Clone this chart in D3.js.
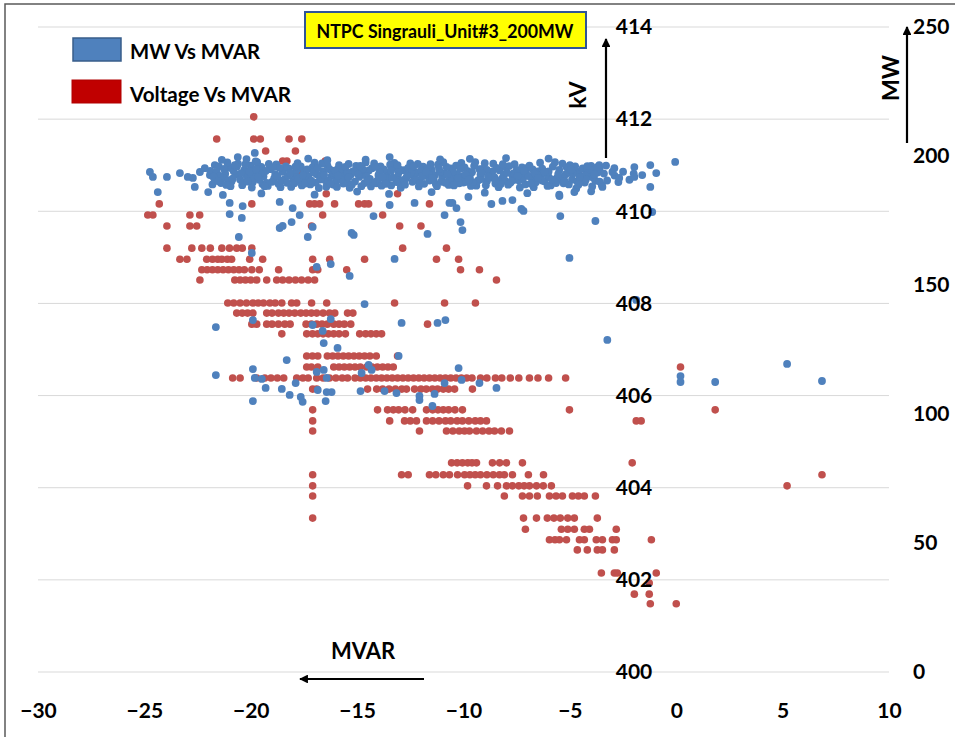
<!DOCTYPE html>
<html>
<head>
<meta charset="utf-8">
<script src="https://cdn.jsdelivr.net/npm/d3@7"></script>
<style>
  body { margin: 0; background: #fff; }
  svg { display: block; font-family: Lato, "Open Sans", sans-serif; font-weight: bold; }
</style>
</head>
<body>
<svg id="chart" width="955" height="737"></svg>
<script>
var xTicks = [-30, -25, -20, -15, -10, -5, 0, 5, 10];
var kvTicks = [400, 402, 404, 406, 408, 410, 412, 414];
var mwTicks = [0, 50, 100, 150, 200, 250];

// Voltage Vs MVAR: each row is [kV, list of MVAR readings]
var voltageRows = [
  [412.05, [-19.86]],
  [411.57, [-21.6, -19.86, -19.55, -18.2, -17.6]],
  [411.31, [-19.3, -17.9]],
  [411.09, [-18.5, -18.3, -16.5]],
  [410.87, [-17.65]],
  [410.38, [-16.45, -13.1]],
  [410.16, [-24.3, -19.95, -17.23, -17.0, -16.76, -16.06, -14.93, -14.65, -14.46, -11.6]],
  [409.92, [-24.84, -24.6, -22.86, -22.4, -16.62, -13.8]],
  [409.68, [-23.94, -22.86, -22.54, -17.14, -13.0, -12.0]],
  [409.20, [-23.94, -22.77, -22.3, -21.9, -21.36, -21.0, -20.66, -20.4, -19.95, -12.86, -10.8]],
  [408.96, [-23.33, -23.0, -22.07, -21.8, -21.55, -21.36, -21.1, -20.9, -20.05, -19.44, -17.09, -16.29, -14.65, -11.27, -10.23]],
  [408.73, [-22.3, -22.05, -21.8, -21.55, -21.3, -21.05, -20.8, -20.55, -20.3, -19.95, -19.6, -18.69, -17.09, -16.85, -15.49, -10.14, -9.25]],
  [408.51, [-22.39, -20.75, -20.5, -20.25, -20.0, -19.72, -19.25, -18.78, -18.5, -18.2, -17.9, -17.61, -17.3, -17.0, -8.45]],
  [408.01, [-21.08, -20.8, -20.5, -20.2, -19.9, -19.65, -19.4, -19.1, -18.85, -18.54, -18.08, -17.84, -17.14, -16.43, -13.24, -10.89, -9.44]],
  [407.79, [-20.66, -20.4, -20.15, -19.9, -19.25, -19.0, -18.7, -18.45, -18.2, -17.93, -17.65, -17.4, -17.15, -16.9, -16.6, -16.3, -16.05, -15.45, -15.2]],
  [407.55, [-19.95, -19.72, -19.25, -19.0, -18.7, -18.4, -18.15, -17.4, -17.15, -16.9, -16.65, -16.4, -16.1, -15.85, -15.6, -15.3, -11.69]],
  [407.34, [-18.54, -17.37, -17.1, -16.85, -16.6, -16.35, -16.1, -15.85, -15.55, -14.88, -14.6, -14.35, -14.1, -13.85]],
  [406.86, [-17.37, -17.1, -16.85, -16.4, -16.15, -15.9, -15.65, -15.4, -15.15, -14.9, -14.65, -14.4, -14.1, -13.1]],
  [406.62, [-17.37, -17.15, -16.85, -16.1, -15.85, -15.6, -15.35, -15.1, -14.85, -14.55, -14.3, -14.05, -13.8, -13.55, -13.3, 0.2]],
  [406.38, [-20.85, -20.5, -19.72, -19.34, -19.05, -18.75, -18.45, -17.84, -17.55, -17.3, -16.9, -16.6, -16.3, -16.0, -15.7, -15.45, -15.1, -14.85, -14.6, -14.35, -14.1, -13.85, -13.6, -13.35, -13.1, -12.85, -12.6, -12.35, -12.1, -11.85, -11.6, -11.35, -11.1, -10.85, -10.6, -10.35, -10.1, -9.85, -9.6, -9.2, -8.9, -8.5, -8.2, -7.8, -7.4, -6.9, -6.5, -6.0, -5.2]],
  [406.14, [-17.09, -16.9, -14.51, -14.08, -13.8, -13.5, -13.2, -12.9, -12.68, -12.3, -12.0, -11.75, -11.46, -11.22, -10.95, -10.7, -10.42, -9.58]],
  [405.69, [-17.09, -14.04, -13.57, -13.3, -13.05, -12.75, -12.39, -11.74, -11.45, -11.2, -10.95, -10.7, -10.4, -10.05, -5.02, 1.83]],
  [405.45, [-17.09, -13.47, -12.77, -12.5, -12.21, -11.74, -11.45, -11.15, -10.85, -10.6, -10.3, -10.05, -9.75, -9.45, -9.2, -8.92, -1.88, -1.65]],
  [405.23, [-17.09, -12.07, -10.8, -10.5, -10.2, -9.95, -9.72, -9.39, -9.1, -8.8, -8.54, -8.22, -7.84]],
  [404.54, [-10.56, -10.3, -10.05, -9.8, -9.6, -9.39, -8.64, -8.3, -7.98, -7.23, -2.07]],
  [404.28, [-17.09, -12.91, -12.6, -11.6, -11.3, -10.95, -10.66, -10.28, -9.95, -9.7, -9.45, -9.2, -8.9, -8.6, -8.31, -8.08, -7.7, -6.95, -6.24, 6.85]],
  [404.04, [-17.09, -9.81, -8.92, -8.4, -7.98, -7.7, -7.4, -7.15, -6.9, -6.57, -6.25, -5.87, 5.21]],
  [403.82, [-17.09, -8.08, -7.23, -6.9, -6.53, -5.96, -5.65, -5.35, -4.88, -4.6, -4.32, -3.8]],
  [403.34, [-17.09, -7.18, -6.57, -6.06, -5.75, -5.45, -5.1, -4.79, -3.71]],
  [403.10, [-7.09, -5.4, -5.1, -4.79, -4.32, -4.08, -2.82]],
  [402.87, [-5.96, -5.7, -5.49, -5.16, -4.55, -4.32, -3.76, -3.47, -3.0, -2.82, -1.17]],
  [402.65, [-4.65, -4.18, -3.71, -3.47, -2.91]],
  [402.15, [-3.52, -2.91, -2.77, -0.94]],
  [401.93, [-1.27]],
  [401.69, [-1.97, -1.27]],
  [401.48, [-1.22, 0]]
];

// MW Vs MVAR: [MVAR, MW]
var mwPoints = [
  [-24.74, 193.8], [-24.6, 191.9], [-23.94, 191.9], [-23.33, 193.4], [-22.96, 191.9], [-22.72, 191.5],
  [-22.63, 188.0], [-24.37, 186.0], [-22.39, 193.8], [-22.16, 195.3], [-21.92, 192.6], [-21.69, 196.5],
  [-21.9, 194.2], [-21.7, 191.0], [-21.5, 196.0], [-21.4, 189.5], [-21.2, 193.1], [-21.0, 195.4], [-20.9, 190.2],
  [-20.7, 192.8], [-20.6, 197.0], [-20.4, 188.7], [-20.3, 194.6], [-20.1, 191.7], [-20.0, 196.3], [-19.9, 189.9],
  [-19.8, 193.5], [-19.6, 190.8], [-19.5, 195.8], [-19.4, 192.1], [-19.2, 188.4], [-19.1, 194.9], [-18.9, 191.3],
  [-18.8, 196.7], [-18.7, 189.2], [-18.5, 193.9], [-18.4, 191.0], [-18.2, 195.1], [-18.1, 188.0], [-17.9, 192.5],
  [-17.8, 197.2], [-17.7, 190.4], [-17.5, 194.3], [-17.4, 191.8], [-17.2, 189.0], [-17.1, 195.6], [-16.9, 192.9],
  [-16.8, 187.6], [-16.6, 194.0], [-16.5, 190.6], [-16.4, 196.4], [-16.2, 192.2], [-16.1, 188.9], [-15.9, 195.0],
  [-15.8, 191.5], [-15.7, 193.8], [-15.5, 189.6], [-15.4, 196.9], [-15.3, 192.7], [-15.1, 190.1], [-15.0, 194.8],
  [-14.8, 188.3], [-14.7, 193.2], [-14.6, 197.5], [-14.4, 191.1], [-14.3, 195.3], [-14.1, 189.4], [-14.0, 192.6],
  [-13.9, 196.0], [-13.7, 190.7], [-13.6, 193.7], [-13.4, 188.6], [-13.3, 195.5], [-13.1, 192.0], [-13.0, 189.8],
  [-12.8, 194.5], [-12.7, 191.4], [-12.5, 197.1], [-12.4, 190.0], [-12.2, 193.6], [-12.1, 188.2], [-11.9, 195.9],
  [-11.8, 192.3], [-11.6, 190.5], [-11.5, 194.7], [-11.3, 189.1], [-11.2, 196.6], [-11.0, 191.9], [-10.9, 193.4],
  [-10.7, 188.8], [-10.6, 195.2], [-10.4, 190.9], [-10.3, 193.0], [-10.1, 197.3], [-10.0, 189.7], [-9.8, 194.1],
  [-9.7, 191.6], [-9.5, 196.2], [-9.4, 188.5], [-9.2, 192.8], [-9.1, 195.0], [-8.9, 190.3], [-8.8, 193.5],
  [-8.6, 197.0], [-8.5, 189.3], [-8.3, 194.4], [-8.2, 191.2], [-8.0, 195.7], [-7.9, 188.9], [-7.7, 192.4],
  [-7.6, 196.8], [-7.4, 190.6], [-7.3, 193.9], [-7.1, 189.0], [-7.0, 195.4], [-6.8, 191.8], [-6.7, 187.9],
  [-6.5, 194.0], [-6.4, 197.4], [-6.2, 190.2], [-6.1, 193.3], [-5.9, 188.6], [-5.8, 195.9], [-5.6, 191.5],
  [-5.5, 194.6], [-5.3, 189.4], [-5.2, 192.9], [-5.0, 196.5], [-4.9, 190.8], [-4.7, 187.4], [-4.6, 193.8],
  [-4.4, 195.2], [-4.3, 189.7], [-4.1, 192.1], [-4.0, 196.2], [-3.8, 190.4], [-3.7, 193.6], [-3.5, 188.8],
  [-21.8, 189.0], [-21.6, 193.7], [-21.3, 191.5], [-21.1, 197.5], [-20.8, 194.1], [-20.5, 190.9], [-20.2, 192.4],
  [-19.95, 187.8], [-21.45, 192.3], [-20.95, 188.3], [-20.65, 195.9], [-20.25, 196.8], [-21.05, 190.6], [-20.45, 193.4],
  [-19.7, 197.6], [-19.45, 189.1], [-19.3, 194.2], [-19.0, 190.0], [-18.85, 193.0], [-18.6, 187.9], [-18.35, 196.0],
  [-18.0, 190.7], [-19.85, 191.6], [-19.15, 196.9], [-18.65, 195.4], [-18.25, 192.3], [-17.95, 189.4], [-19.55, 193.2],
  [-17.85, 194.6], [-17.6, 188.6], [-17.3, 192.0], [-17.0, 197.4], [-16.75, 190.9], [-16.45, 188.1], [-16.3, 194.9],
  [-16.0, 190.2], [-17.65, 196.0], [-17.35, 194.8], [-16.95, 189.7], [-16.65, 197.1], [-16.15, 193.5], [-15.95, 188.0],
  [-15.85, 196.5], [-15.6, 192.1], [-15.35, 187.7], [-15.2, 194.0], [-14.9, 191.9], [-14.65, 189.5], [-14.45, 194.4],
  [-14.2, 197.1], [-15.65, 189.3], [-15.05, 196.2], [-14.75, 195.0], [-14.35, 188.2], [-14.05, 190.4], [-15.45, 193.6],
  [-13.85, 188.5], [-13.55, 191.3], [-13.25, 197.3], [-13.05, 193.5], [-12.85, 190.6], [-12.6, 195.4], [-12.3, 191.2],
  [-12.0, 194.3], [-13.75, 194.8], [-13.45, 196.6], [-12.95, 187.7], [-12.55, 192.7], [-12.15, 196.9], [-13.15, 189.9],
  [-11.85, 189.2], [-11.55, 196.8], [-11.35, 192.6], [-11.05, 190.0], [-10.8, 195.8], [-10.55, 192.2], [-10.2, 189.4],
  [-9.95, 195.6], [-11.65, 193.2], [-11.25, 188.3], [-10.95, 197.6], [-10.65, 191.0], [-10.35, 196.3], [-10.05, 192.0],
  [-9.85, 190.0], [-9.6, 193.7], [-9.3, 190.6], [-9.0, 197.2], [-8.75, 191.6], [-8.45, 195.4], [-8.1, 192.9],
  [-7.85, 196.1], [-9.65, 188.4], [-9.25, 194.9], [-8.95, 188.7], [-8.65, 193.9], [-8.35, 187.9], [-8.05, 190.4],
  [-7.8, 189.6], [-7.5, 194.5], [-7.2, 191.4], [-6.9, 196.3], [-6.6, 189.8], [-6.3, 195.1], [-6.0, 191.9],
  [-5.7, 197.6], [-7.65, 193.3], [-7.35, 187.8], [-7.05, 193.0], [-6.75, 194.8], [-6.35, 192.5], [-6.05, 188.4],
  [-5.45, 190.9], [-5.15, 195.6], [-4.85, 193.2], [-4.5, 190.6], [-4.2, 194.6], [-3.9, 191.6], [-3.6, 195.1],
  [-5.35, 197.0], [-5.05, 189.0], [-4.75, 196.0], [-4.45, 191.5], [-3.95, 188.2], [-3.4, 193.2], [-3.25, 190.5],
  [-21.75, 192.0], [-21.25, 195.0], [-20.85, 191.2], [-20.35, 189.8], [-20.05, 193.9], [-19.65, 191.9], [-19.25, 189.6],
  [-18.95, 195.7], [-18.55, 190.4], [-18.15, 193.4], [-17.75, 191.2], [-17.45, 189.3], [-17.05, 193.6], [-16.7, 191.7],
  [-16.35, 190.3], [-16.05, 194.3], [-15.75, 190.8], [-15.4, 191.8], [-15.1, 193.9], [-14.85, 196.2], [-14.55, 192.0],
  [-14.25, 189.8], [-13.95, 193.6], [-13.65, 189.2], [-13.35, 191.6], [-13.0, 194.7], [-12.75, 188.9], [-12.45, 193.8],
  [-12.2, 190.7], [-11.95, 192.1], [-11.7, 195.2], [-11.4, 190.8], [-11.1, 193.8], [-10.85, 189.6], [-10.5, 194.0],
  [-10.25, 191.5], [-9.9, 192.9], [-9.55, 189.9], [-9.2, 191.0], [-8.9, 194.6], [-8.55, 191.8], [-8.25, 189.1],
  [-7.95, 193.5], [-7.6, 190.8], [-7.25, 195.6], [-6.95, 192.2], [-6.65, 193.2], [-6.3, 190.5], [-6.0, 194.0],
  [-5.65, 189.5], [-5.3, 191.6], [-5.0, 193.5], [-4.65, 190.2], [-4.3, 192.5], [-3.95, 194.4], [-3.6, 190.1],
  [-3.3, 196.3], [-2.9, 192.4], [-2.5, 193.9], [-2.2, 190.8], [-2.0, 193.2], [-1.6, 192.6],
  [-21.55, 190.3], [-21.15, 188.8], [-20.75, 196.5], [-20.15, 190.1], [-19.75, 195.0], [-19.35, 188.3], [-18.75, 192.2],
  [-18.3, 189.6], [-17.9, 195.9], [-17.55, 192.6], [-17.15, 190.4], [-16.85, 195.4], [-16.55, 192.6], [-16.25, 189.2],
  [-15.9, 192.4], [-15.55, 195.8], [-15.25, 188.9], [-14.95, 192.9], [-14.5, 190.6], [-14.15, 195.8], [-13.8, 191.9],
  [-13.4, 194.3], [-13.1, 196.5], [-12.65, 192.4], [-12.35, 196.0], [-12.05, 189.6], [-11.75, 193.9], [-11.45, 191.4],
  [-11.15, 195.1], [-10.75, 193.0], [-10.45, 188.6], [-10.15, 195.0], [-9.75, 190.8], [-9.45, 197.6], [-9.15, 193.4],
  [-8.85, 192.0], [-8.5, 190.5], [-8.15, 196.8], [-7.75, 190.2], [-7.45, 192.3], [-7.15, 194.3], [-6.85, 189.3],
  [-6.5, 191.5], [-6.2, 193.9], [-5.85, 190.9], [-5.55, 193.0], [-5.25, 190.3], [-4.95, 194.7], [-4.6, 188.9],
  [-4.25, 190.9], [-3.85, 192.8],
  // edges of the band
  [-20.61, 199.6], [-19.81, 201.2], [-19.77, 197.9], [-20.2, 198.8], [-21.36, 198.5], [-13.47, 199.6], [-14.6, 198.6],
  [-11.1, 198.7], [-8.0, 199.2], [-16.4, 198.4], [-6.0, 199.0], [-9.7, 198.9], [-17.3, 199.0],
  [-22.0, 186.0], [-19.5, 185.5], [-17.0, 185.0], [-15.0, 186.2], [-13.5, 185.3], [-11.5, 186.0], [-9.0, 185.8],
  [-7.0, 185.6], [-5.5, 185.0], [-4.0, 186.3],
  [-0.05, 197.7], [-0.94, 193.4], [-1.22, 196.5], [-1.97, 195.7], [-1.97, 191.9], [-2.72, 189.9], [-3.0, 193.8],
  [-3.62, 196.5], [-4.18, 196.1], [-2.91, 195.3], [-2.68, 191.5], [-3.71, 195.7], [-4.55, 191.9],
  // below the band
  [-21.31, 184.9], [-20.99, 181.8], [-20.99, 177.5], [-20.42, 176.0], [-20.38, 180.6], [-20.56, 168.6],
  [-18.64, 182.2], [-18.03, 179.8], [-17.7, 177.1], [-18.64, 172.1], [-18.5, 172.9], [-18.08, 174.4],
  [-17.32, 168.6], [-17.09, 172.5], [-15.26, 170.2], [-15.16, 169.4], [-14.23, 176.7], [-13.47, 181.0],
  [-11.69, 169.8], [-12.3, 181.8], [-10.89, 177.1], [-10.66, 181.8], [-10.52, 181.8], [-10.33, 179.8],
  [-10.14, 174.4], [-10.05, 171.3], [-9.77, 184.1], [-8.69, 181.4], [-8.17, 182.6], [-7.7, 182.9],
  [-7.28, 179.5], [-7.18, 178.7], [-5.45, 176.7], [-5.49, 184.5], [-3.8, 174.8], [-5.02, 160.5],
  [-1.13, 178.3], [-4.79, 186.0], [-3.47, 188.0], [-1.22, 188.0], [-1.88, 144.2], [-3.24, 128.7],
  [-19.95, 162.4], [-16.9, 157.0], [-16.24, 158.1], [-15.35, 153.5], [-13.24, 160.1], [-14.65, 142.6],
  [-21.64, 133.7], [-19.9, 136.4], [-17.09, 134.5], [-16.24, 136.8], [-16.62, 132.2], [-12.91, 135.3],
  [-11.22, 135.3], [-10.85, 136.4], [-16.57, 127.5], [-15.92, 125.6],
  [-21.64, 115.1], [-19.9, 117.4], [-19.81, 114.0], [-19.48, 113.6], [-19.3, 110.1], [-18.54, 109.7],
  [-18.17, 107.4], [-17.89, 112.0], [-18.31, 120.9], [-17.65, 106.6], [-17.56, 104.7], [-19.9, 105.0],
  [-16.9, 116.3], [-16.57, 117.1], [-16.43, 114.0], [-16.85, 109.3], [-16.43, 108.5], [-16.2, 108.5],
  [-16.48, 105.0], [-14.79, 115.9], [-14.46, 119.0], [-14.32, 117.1], [-14.84, 108.9], [-13.71, 108.9],
  [-13.15, 108.1], [-13.05, 122.5], [-12.07, 107.0], [-12.07, 105.4], [-11.36, 107.8], [-11.46, 103.1],
  [-10.89, 112.0], [-10.23, 117.8], [-10.09, 113.2], [-9.25, 112.0], [-8.45, 110.1],
  [0.2, 114.7], [0.2, 112.4], [1.83, 112.4], [5.21, 119.4], [6.85, 112.8]
];

var svg = d3.select("#chart");

var x = d3.scaleLinear().domain([-30, 10]).range([38, 889]);
var yKV = d3.scaleLinear().domain([400, 414]).range([672, 27]);
var yMW = d3.scaleLinear().domain([0, 250]).range([672, 27]);

// outer frame
svg.append("rect")
  .attr("x", 5).attr("y", 4).attr("width", 960).attr("height", 740)
  .attr("fill", "none").attr("stroke", "#595959").attr("stroke-width", 1.5);

// gridlines
svg.append("g")
  .selectAll("line")
  .data(kvTicks)
  .enter()
  .append("line")
  .attr("x1", x(-30)).attr("x2", x(10))
  .attr("y1", d => yKV(d)).attr("y2", d => yKV(d))
  .attr("stroke", "#d9d9d9").attr("stroke-width", 1);

// points
var voltPts = [];
voltageRows.forEach(function (row) {
  row[1].forEach(function (m) { voltPts.push([m, row[0]]); });
});

svg.append("g")
  .selectAll("circle")
  .data(voltPts)
  .enter()
  .append("circle")
  .attr("cx", d => x(d[0]))
  .attr("cy", d => yKV(d[1]))
  .attr("r", 3.8)
  .attr("fill", "#c0504d");

svg.append("g")
  .selectAll("circle")
  .data(mwPoints)
  .enter()
  .append("circle")
  .attr("cx", d => x(d[0]))
  .attr("cy", d => yMW(d[1]))
  .attr("r", 3.9)
  .attr("fill", "#4f81bd");

// axes
function styleAxis(g) {
  g.select(".domain").remove();
  g.selectAll("text")
    .attr("fill", "#000")
    .style("font-size", "21px")
    .style("font-weight", "bold")
    .style("font-family", "Lato, 'Open Sans', sans-serif");
}

svg.append("g")
  .attr("transform", "translate(0,703)")
  .call(d3.axisBottom(x).tickValues(xTicks).tickSize(0).tickPadding(0))
  .call(styleAxis);

svg.append("g")
  .attr("transform", "translate(" + x(0) + ",0)")
  .call(d3.axisLeft(yKV).tickValues(kvTicks).tickSize(0).tickPadding(24))
  .call(styleAxis);

svg.append("g")
  .attr("transform", "translate(889,0)")
  .call(d3.axisRight(yMW).tickValues(mwTicks).tickSize(0).tickPadding(24))
  .call(styleAxis);

// arrows
svg.append("defs").append("marker")
  .attr("id", "head")
  .attr("viewBox", "0 0 10 10")
  .attr("refX", 9).attr("refY", 5)
  .attr("markerWidth", 4).attr("markerHeight", 4)
  .attr("orient", "auto")
  .append("path")
  .attr("d", "M0,0L10,5L0,10z")
  .attr("fill", "#000");

var arrows = [
  [606, 158, 606, 39],
  [907, 143, 907, 27],
  [424, 679, 300, 679]
];
svg.append("g")
  .selectAll("line")
  .data(arrows)
  .enter()
  .append("line")
  .attr("x1", d => d[0]).attr("y1", d => d[1])
  .attr("x2", d => d[2]).attr("y2", d => d[3])
  .attr("stroke", "#000").attr("stroke-width", 2.2)
  .attr("marker-end", "url(#head)");

// axis titles
svg.append("text")
  .attr("transform", "translate(577,95) rotate(-90)")
  .attr("text-anchor", "middle").attr("dominant-baseline", "central")
  .style("font-size", "23px")
  .text("kV");

svg.append("text")
  .attr("transform", "translate(890,78) rotate(-90)")
  .attr("text-anchor", "middle").attr("dominant-baseline", "central")
  .style("font-size", "23px")
  .text("MW");

svg.append("text")
  .attr("x", 363).attr("y", 650)
  .attr("text-anchor", "middle").attr("dominant-baseline", "central")
  .style("font-size", "22px")
  .text("MVAR");

// title box
svg.append("rect")
  .attr("x", 305).attr("y", 12).attr("width", 281).attr("height", 36)
  .attr("fill", "#ffff00").attr("stroke", "#2f5597").attr("stroke-width", 2);
svg.append("text")
  .attr("x", 445).attr("y", 31)
  .attr("text-anchor", "middle").attr("dominant-baseline", "central")
  .attr("textLength", 257).attr("lengthAdjust", "spacingAndGlyphs")
  .style("font-size", "18px")
  .text("NTPC Singrauli_Unit#3_200MW");

// legend
svg.append("rect")
  .attr("x", 73).attr("y", 38).attr("width", 48).attr("height", 23)
  .attr("fill", "#4f81bd").attr("stroke", "#385d8a").attr("stroke-width", 1.5);
svg.append("rect")
  .attr("x", 72).attr("y", 80).attr("width", 49).attr("height", 23)
  .attr("fill", "#c00000").attr("stroke", "#b00000").attr("stroke-width", 1);
svg.append("text")
  .attr("x", 130).attr("y", 51).attr("dominant-baseline", "central")
  .attr("textLength", 130).attr("lengthAdjust", "spacingAndGlyphs")
  .style("font-size", "20px")
  .text("MW Vs MVAR");
svg.append("text")
  .attr("x", 130).attr("y", 94).attr("dominant-baseline", "central")
  .attr("textLength", 161).attr("lengthAdjust", "spacingAndGlyphs")
  .style("font-size", "20px")
  .text("Voltage Vs MVAR");
</script>
</body>
</html>
